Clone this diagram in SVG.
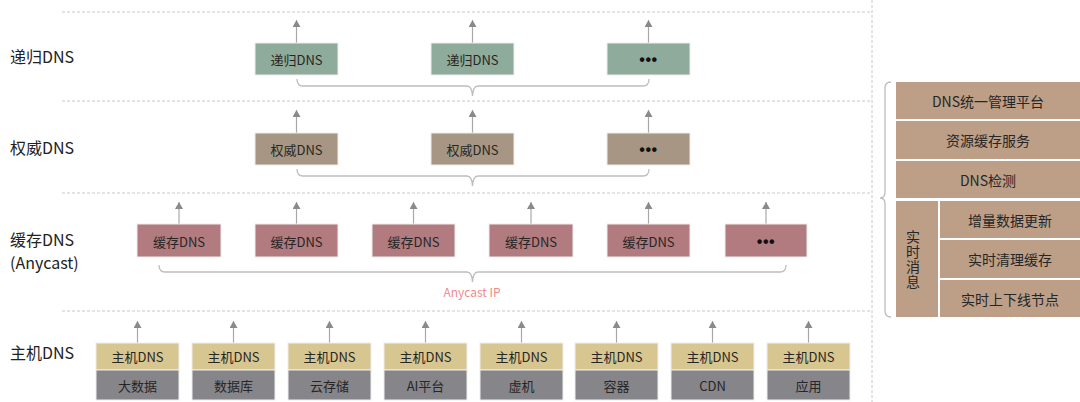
<svg xmlns="http://www.w3.org/2000/svg" width="1080" height="402" viewBox="0 0 1080 402">
<defs>
<style>
text{font-family:"Noto Sans CJK SC","Microsoft YaHei",sans-serif;}
.lbl{font-size:16px;fill:#222;}
.bt{font-size:13px;fill:#262626;text-anchor:middle;dominant-baseline:central;}
.rt{font-size:14px;fill:#262626;text-anchor:middle;dominant-baseline:central;}
.vt{font-size:14px;fill:#262626;text-anchor:middle;writing-mode:vertical-rl;text-orientation:upright;letter-spacing:1px;}
.dots{font-family:"Liberation Sans",Arial,sans-serif;font-size:16px;fill:#111;text-anchor:middle;dominant-baseline:central;font-weight:bold;letter-spacing:0.5px;}
.dash{stroke:#c8c8c8;stroke-width:1;stroke-dasharray:3,2;fill:none;}
.g{fill:#8fab9c;stroke:#eeeeee;stroke-width:1;}
.a{fill:#a69683;stroke:#eeeeee;stroke-width:1;}
.c{fill:#b27b7f;stroke:#eeeeee;stroke-width:1;}
.h{fill:#d8c690;stroke:#eeeeee;stroke-width:1;}
.s{fill:#86858a;stroke:#eeeeee;stroke-width:1;}
.r{fill:#bc9f86;}
.arr{stroke:#a8a8a8;stroke-width:1.2;fill:none;marker-end:url(#ah);}
.br{stroke:#bdbdbd;stroke-width:1.3;fill:none;}
</style>
<marker id="ah" markerWidth="8" markerHeight="8" refX="7" refY="4" orient="auto" markerUnits="userSpaceOnUse" viewBox="0 0 8 8">
<path d="M0,0 L7,4 L0,8 Z" fill="#8a8a8a"/>
</marker>
</defs>
<rect width="1080" height="402" fill="#ffffff"/>

<g id="gridlines">
<line class="dash" x1="62" y1="12" x2="872" y2="12"/>
<line class="dash" x1="62" y1="101" x2="872" y2="101"/>
<line class="dash" x1="62" y1="193" x2="872" y2="193"/>
<line class="dash" x1="62" y1="311" x2="872" y2="311"/>
<line class="dash" x1="872" y1="0" x2="872" y2="402"/>
</g>

<g id="layer-labels">
<text class="lbl" x="10" y="63">递归DNS</text>
<text class="lbl" x="10" y="154">权威DNS</text>
<text class="lbl" x="10" y="246">缓存DNS</text>
<text class="lbl" x="10" y="269">(Anycast)</text>
<text class="lbl" x="10" y="359">主机DNS</text>
</g>

<g id="connectors">
<line class="arr" x1="296.5" y1="43" x2="296.5" y2="20"/>
<line class="arr" x1="472.5" y1="43" x2="472.5" y2="20"/>
<line class="arr" x1="648.5" y1="43" x2="648.5" y2="20"/>
<line class="arr" x1="296.5" y1="133" x2="296.5" y2="110"/>
<line class="arr" x1="472.5" y1="133" x2="472.5" y2="110"/>
<line class="arr" x1="648.5" y1="133" x2="648.5" y2="110"/>
<line class="arr" x1="179" y1="224" x2="179" y2="202"/>
<line class="arr" x1="296.5" y1="224" x2="296.5" y2="202"/>
<line class="arr" x1="413.5" y1="224" x2="413.5" y2="202"/>
<line class="arr" x1="531" y1="224" x2="531" y2="202"/>
<line class="arr" x1="648.5" y1="224" x2="648.5" y2="202"/>
<line class="arr" x1="766" y1="224" x2="766" y2="202"/>
<line class="arr" x1="137.5" y1="343" x2="137.5" y2="321"/>
<line class="arr" x1="233.5" y1="343" x2="233.5" y2="321"/>
<line class="arr" x1="329.5" y1="343" x2="329.5" y2="321"/>
<line class="arr" x1="425.5" y1="343" x2="425.5" y2="321"/>
<line class="arr" x1="521.5" y1="343" x2="521.5" y2="321"/>
<line class="arr" x1="616.5" y1="343" x2="616.5" y2="321"/>
<line class="arr" x1="712.5" y1="343" x2="712.5" y2="321"/>
<line class="arr" x1="808.5" y1="343" x2="808.5" y2="321"/>
<path class="br" d="M297,79 Q297,86 303,86 L467,86 Q472,86 472.5,96 Q473,86 478,86 L643,86 Q649,86 649,79"/>
<path class="br" d="M297,169 Q297,176 303,176 L467,176 Q472,176 472.5,186 Q473,176 478,176 L643,176 Q649,176 649,169"/>
<path class="br" d="M159,265 Q159,272 165,272 L467,272 Q472,272 472.5,282 Q473,272 478,272 L780,272 Q786,272 786,265"/>
<path class="br" d="M891,82 Q885,82 885,88 L885,192 Q885,198 880,198 Q885,198 885,204 L885,311 Q885,317 891,317"/>
</g>

<g id="recursive-1"><rect class="g" x="255" y="43" width="83" height="32"/><text class="bt" x="296.5" y="59">递归DNS</text></g>
<g id="recursive-2"><rect class="g" x="431" y="43" width="83" height="32"/><text class="bt" x="472.5" y="59">递归DNS</text></g>
<g id="recursive-3"><rect class="g" x="607" y="43" width="83" height="32"/><text class="dots" x="648.5" y="59">•••</text></g>

<g id="auth-1"><rect class="a" x="255" y="133" width="83" height="32"/><text class="bt" x="296.5" y="149">权威DNS</text></g>
<g id="auth-2"><rect class="a" x="431" y="133" width="83" height="32"/><text class="bt" x="472.5" y="149">权威DNS</text></g>
<g id="auth-3"><rect class="a" x="607" y="133" width="83" height="32"/><text class="dots" x="648.5" y="149">•••</text></g>

<g id="cache-1"><rect class="c" x="137" y="224" width="84" height="33"/><text class="bt" x="179" y="241">缓存DNS</text></g>
<g id="cache-2"><rect class="c" x="255" y="224" width="83" height="33"/><text class="bt" x="296.5" y="241">缓存DNS</text></g>
<g id="cache-3"><rect class="c" x="372" y="224" width="83" height="33"/><text class="bt" x="413.5" y="241">缓存DNS</text></g>
<g id="cache-4"><rect class="c" x="489" y="224" width="84" height="33"/><text class="bt" x="531" y="241">缓存DNS</text></g>
<g id="cache-5"><rect class="c" x="607" y="224" width="83" height="33"/><text class="bt" x="648.5" y="241">缓存DNS</text></g>
<g id="cache-6"><rect class="c" x="725" y="224" width="82" height="33"/><text class="dots" x="766" y="241">•••</text></g>
<g id="anycast-label"><text x="472" y="297" text-anchor="middle" font-size="12" fill="#f08a8a">Anycast IP</text></g>

<g id="host-1"><rect class="h" x="96" y="343" width="83" height="27"/><rect class="s" x="96" y="370" width="83" height="30"/><text class="bt" x="137.5" y="356">主机DNS</text><text class="bt" x="137.5" y="385">大数据</text></g>
<g id="host-2"><rect class="h" x="192" y="343" width="83" height="27"/><rect class="s" x="192" y="370" width="83" height="30"/><text class="bt" x="233.5" y="356">主机DNS</text><text class="bt" x="233.5" y="385">数据库</text></g>
<g id="host-3"><rect class="h" x="288" y="343" width="83" height="27"/><rect class="s" x="288" y="370" width="83" height="30"/><text class="bt" x="329.5" y="356">主机DNS</text><text class="bt" x="329.5" y="385">云存储</text></g>
<g id="host-4"><rect class="h" x="384" y="343" width="83" height="27"/><rect class="s" x="384" y="370" width="83" height="30"/><text class="bt" x="425.5" y="356">主机DNS</text><text class="bt" x="425.5" y="385">AI平台</text></g>
<g id="host-5"><rect class="h" x="480" y="343" width="83" height="27"/><rect class="s" x="480" y="370" width="83" height="30"/><text class="bt" x="521.5" y="356">主机DNS</text><text class="bt" x="521.5" y="385">虚机</text></g>
<g id="host-6"><rect class="h" x="575" y="343" width="83" height="27"/><rect class="s" x="575" y="370" width="83" height="30"/><text class="bt" x="616.5" y="356">主机DNS</text><text class="bt" x="616.5" y="385">容器</text></g>
<g id="host-7"><rect class="h" x="671" y="343" width="83" height="27"/><rect class="s" x="671" y="370" width="83" height="30"/><text class="bt" x="712.5" y="356">主机DNS</text><text class="bt" x="712.5" y="385">CDN</text></g>
<g id="host-8"><rect class="h" x="767" y="343" width="83" height="27"/><rect class="s" x="767" y="370" width="83" height="30"/><text class="bt" x="808.5" y="356">主机DNS</text><text class="bt" x="808.5" y="385">应用</text></g>

<g id="panel-platform"><rect class="r" x="896" y="82" width="184" height="37"/><text class="rt" x="988" y="100.5">DNS统一管理平台</text></g>
<g id="panel-cache"><rect class="r" x="896" y="121" width="184" height="38"/><text class="rt" x="988" y="140">资源缓存服务</text></g>
<g id="panel-check"><rect class="r" x="896" y="161" width="184" height="37"/><text class="rt" x="988" y="180">DNS检测</text></g>
<g id="panel-msg"><rect class="r" x="896" y="201" width="42" height="116"/>
<text class="vt" x="913" y="259.5">实时消息</text></g>
<g id="panel-incr"><rect class="r" x="940" y="201" width="140" height="37"/><text class="rt" x="1010" y="220">增量数据更新</text></g>
<g id="panel-clear"><rect class="r" x="940" y="240" width="140" height="38"/><text class="rt" x="1010" y="259">实时清理缓存</text></g>
<g id="panel-node"><rect class="r" x="940" y="280" width="140" height="37"/><text class="rt" x="1010" y="298.5">实时上下线节点</text></g>
</svg>
